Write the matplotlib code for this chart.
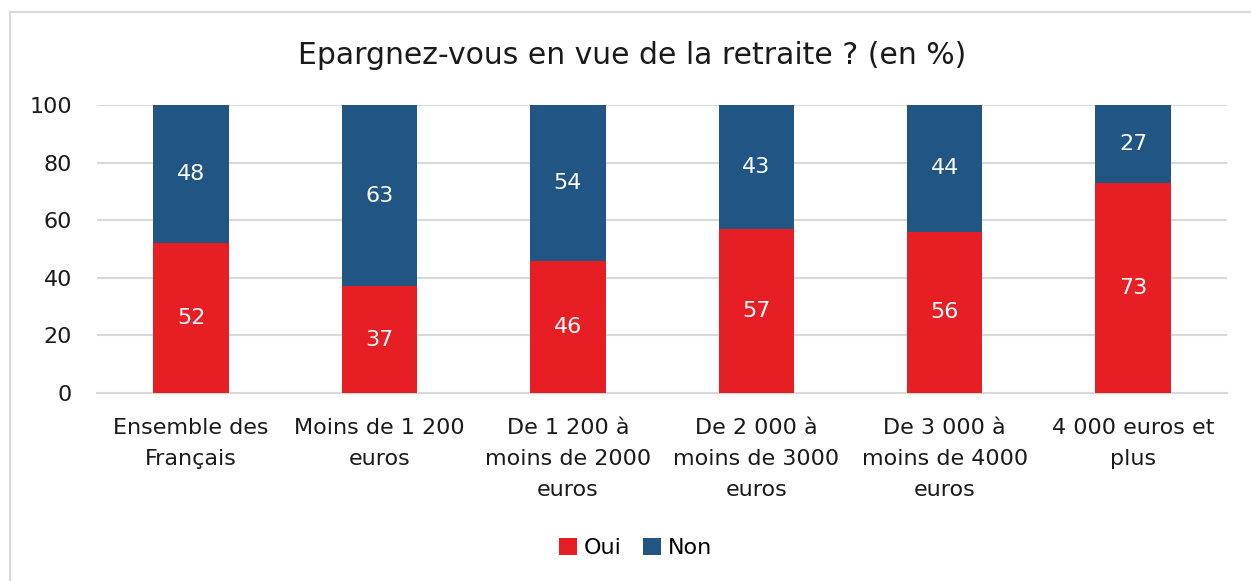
import numpy as np
import matplotlib

matplotlib.use("Agg")
import matplotlib.pyplot as plt
from matplotlib.lines import Line2D
from matplotlib.patches import Patch

plt.rcParams["font.family"] = ["DejaVu Sans"]

categories = [
    "Ensemble des\nFrançais",
    "Moins de 1 200\neuros",
    "De 1 200 à\nmoins de 2000\neuros",
    "De 2 000 à\nmoins de 3000\neuros",
    "De 3 000 à\nmoins de 4000\neuros",
    "4 000 euros et\nplus",
]
oui = [52, 37, 46, 57, 56, 73]
non = [48, 63, 54, 43, 44, 27]
y_ticks = [0, 20, 40, 60, 80, 100]

RED = "#E81E25"
BLUE = "#215584"
GRID = "#D9D9D9"
TXT = "#1a1a1a"

fig = plt.figure(figsize=(12.51, 5.81), dpi=100)
ax = fig.add_axes([0.0775, 0.3236, 0.9035, 0.4957])

x = np.arange(len(categories))
ax.bar(x, oui, width=0.4, color=RED, zorder=3)
ax.bar(x, non, width=0.4, bottom=oui, color=BLUE, zorder=3)

for xi, o, n in zip(x, oui, non):
    ax.text(xi, o / 2, str(o), ha="center", va="center", color="white",
            fontsize=16, zorder=4)
    ax.text(xi, o + n / 2, str(n), ha="center", va="center", color="white",
            fontsize=16, zorder=4)

ax.set_xlim(-0.5, len(categories) - 0.5)
ax.set_ylim(0, 100)
ax.set_yticks(y_ticks)
ax.yaxis.grid(True, color=GRID, linewidth=1.5, zorder=0)
ax.set_axisbelow(True)
for s in ["top", "right", "left"]:
    ax.spines[s].set_visible(False)
ax.spines["bottom"].set_color(GRID)
ax.spines["bottom"].set_linewidth(1.5)
ax.tick_params(axis="both", length=0, labelsize=16, colors=TXT)
ax.tick_params(axis="y", pad=18)
ax.tick_params(axis="x", pad=18)
ax.set_xticks(x)
ax.set_xticklabels(categories, linespacing=1.7)

fig.text(0.505, 0.905, "Epargnez-vous en vue de la retraite ? (en %)",
         ha="center", va="center", fontsize=21.5, color=TXT)

handles = [Patch(facecolor=RED, label="Oui"), Patch(facecolor=BLUE, label="Non")]
fig.legend(handles=handles, loc="center", bbox_to_anchor=(0.508, 0.057), ncol=2,
           frameon=False, fontsize=16, handlelength=0.8, handleheight=0.8,
           handletextpad=0.3, columnspacing=1.0)

# cadre gris clair (haut et gauche visibles)
fig.add_artist(Line2D([10 / 1251, 10 / 1251], [0, 1 - 12 / 581],
                      transform=fig.transFigure, color=GRID, linewidth=1.5))
fig.add_artist(Line2D([10 / 1251, 1], [1 - 12 / 581, 1 - 12 / 581],
                      transform=fig.transFigure, color=GRID, linewidth=1.5))

fig.savefig("out.png", dpi=100)
